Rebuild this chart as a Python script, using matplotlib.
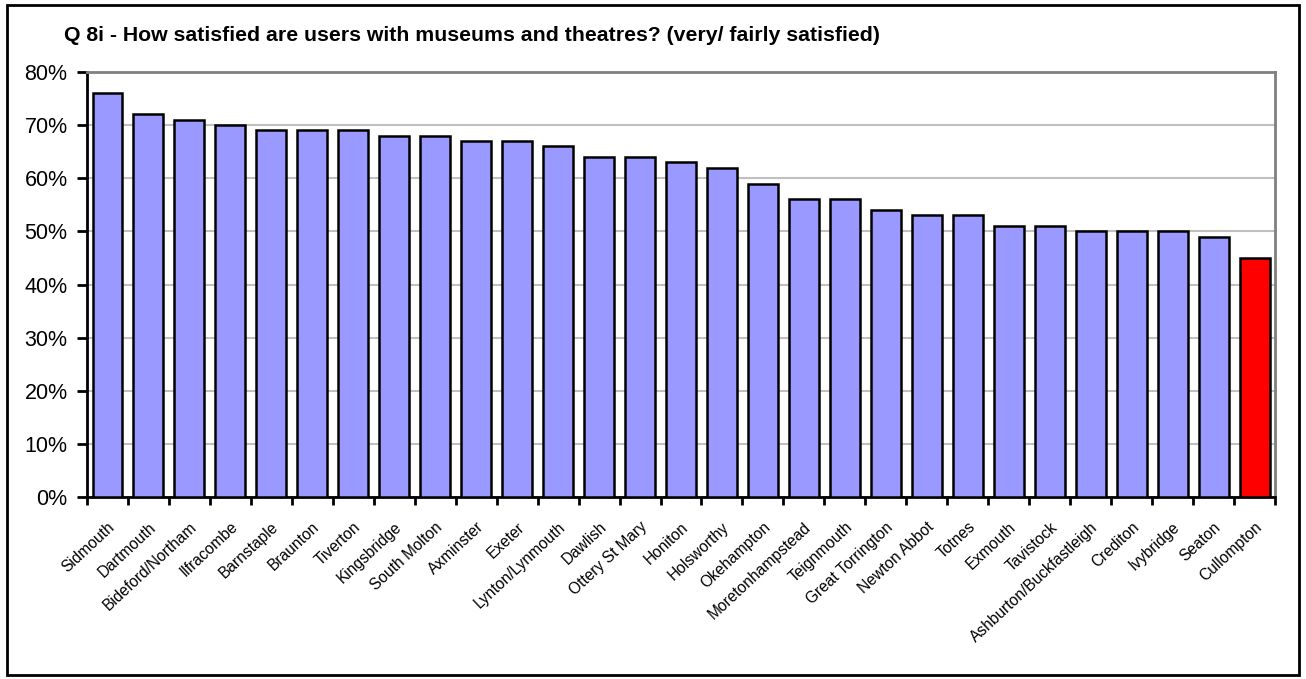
import matplotlib
matplotlib.use("Agg")
import matplotlib.pyplot as plt
from matplotlib.patches import Rectangle
from matplotlib.ticker import FuncFormatter, MultipleLocator
from matplotlib.transforms import ScaledTranslation
import numpy as np

plt.rcParams['font.family'] = ['Liberation Sans', 'DejaVu Sans']

towns = ["Sidmouth", "Dartmouth", "Bideford/Northam", "Ilfracombe", "Barnstaple",
         "Braunton", "Tiverton", "Kingsbridge", "South Molton", "Axminster", "Exeter",
         "Lynton/Lynmouth", "Dawlish", "Ottery St Mary", "Honiton", "Holsworthy",
         "Okehampton", "Moretonhampstead", "Teignmouth", "Great Torrington",
         "Newton Abbot", "Totnes", "Exmouth", "Tavistock", "Ashburton/Buckfastleigh",
         "Crediton", "Ivybridge", "Seaton", "Cullompton"]
satisfied = [76, 72, 71, 70, 69, 69, 69, 68, 68, 67, 67, 66, 64, 64, 63, 62,
             59, 56, 56, 54, 53, 53, 51, 51, 50, 50, 50, 49, 45]
highlight = "Cullompton"

fig = plt.figure(figsize=(13.06, 6.79), dpi=100)
fig.patches.append(Rectangle((0.005, 0.006), 0.99, 0.987, transform=fig.transFigure,
                             fill=False, edgecolor='black', linewidth=2))

ax = fig.add_axes([0.0666, 0.268, 0.9097, 0.626])
x = np.arange(len(towns))
colors = ['#ff0000' if t == highlight else '#9999ff' for t in towns]
ax.bar(x, satisfied, width=0.73, color=colors, edgecolor='black', linewidth=1.8, zorder=3)

ax.set_xlim(-0.5, len(towns) - 0.5)
ax.set_ylim(0, 80)
ax.yaxis.set_major_locator(MultipleLocator(10))
ax.yaxis.set_major_formatter(FuncFormatter(lambda v, p: f"{v:.0f}%"))
ax.grid(axis='y', color='#c0c0c0', linewidth=1.5, zorder=0)

# category boundary ticks (major) and label positions (minor)
ax.set_xticks(np.append(x - 0.5, len(towns) - 0.5))
ax.set_xticklabels([])
ax.set_xticks(x, minor=True)
ax.set_xticklabels(towns, minor=True, rotation=43, ha='right', va='top',
                   rotation_mode='anchor', fontsize=11.2)
shift = ScaledTranslation(-0.07, 0, fig.dpi_scale_trans)
for lbl in ax.get_xticklabels(minor=True):
    lbl.set_transform(lbl.get_transform() + shift)
ax.tick_params(axis='x', which='minor', length=0, pad=16)
ax.tick_params(axis='x', which='major', length=6, width=2, direction='out')
ax.tick_params(axis='y', length=7, width=2, direction='out', labelsize=15.5, pad=7)

for s in ['left', 'bottom']:
    ax.spines[s].set_linewidth(2)
ax.spines['right'].set_color('#808080')
ax.spines['right'].set_linewidth(2)
ax.spines['top'].set_color('#808080')
ax.spines['top'].set_linewidth(2)

fig.text(0.049, 0.948, "Q 8i - How satisfied are users with museums and theatres? (very/ fairly satisfied)",
         fontsize=15.3, fontweight='bold', va='center', ha='left')

fig.savefig("out.png", dpi=100)
